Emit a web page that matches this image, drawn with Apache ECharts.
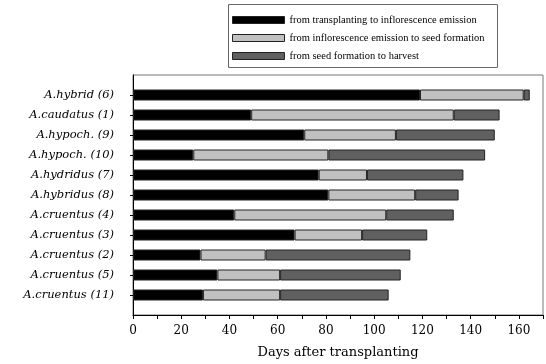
<!DOCTYPE html>
<html>
<head>
<meta charset="utf-8">
<script src="https://cdn.jsdelivr.net/npm/echarts@6/dist/echarts.min.js"></script>
<style>html,body{margin:0;padding:0;background:#fff}#c{width:546px;height:364px}</style>
</head>
<body>
<div id="c"></div>
<script>
var categories = ['A.hybrid (6)','A.caudatus (1)','A.hypoch. (9)','A.hypoch. (10)','A.hydridus (7)','A.hybridus (8)','A.cruentus (4)','A.cruentus (3)','A.cruentus (2)','A.cruentus (5)','A.cruentus (11)'];
var seriesNames = ['from transplanting to inflorescence emission','from inflorescence emission to seed formation','from seed formation to harvest'];
var toInflorescence = [119, 49, 71, 25, 77, 81, 42, 67, 28, 35, 29];
var toSeed = [43, 84, 38, 56, 20, 36, 63, 28, 27, 26, 32];
var toHarvest = [2.5, 19, 41, 65, 40, 18, 28, 27, 60, 50, 45];
var xTicks = [0, 20, 40, 60, 80, 100, 120, 140, 160];

var colors = ['#000000', '#c0c0c0', '#606060'];
function pad(a){ return ['-'].concat(a).concat(['-']); }
var yData = [''].concat(categories).concat(['']);
var vals = [toInflorescence, toSeed, toHarvest];

var chart = echarts.init(document.getElementById('c'), null, {renderer:'canvas'});
chart.setOption({
  animation: false,
  backgroundColor: '#fff',
  graphic: [{type:'rect', shape:{x:228.5, y:4.5, width:269, height:63}, style:{fill:'none', stroke:'#666', lineWidth:1}, z:-1}],
  legend: {
    orient: 'vertical', left: 232, top: 14, padding: 0, icon: 'rect',
    itemWidth: 52, itemHeight: 7, itemGap: 6,
    textStyle: {fontFamily: 'Liberation Serif', fontSize: 10.5, color: '#000', lineHeight: 12},
    data: seriesNames.map(function(n,i){ return {name:n, itemStyle:{color:colors[i], borderColor:'#222', borderWidth:1}}; })
  },
  grid: {left: 133, right: 1, top: 75, bottom: 49, show: true, borderColor: '#777', borderWidth: 1},
  xAxis: {
    type: 'value', min: 0, max: 170, interval: 10,
    axisLine: {show: true, lineStyle: {color: '#000'}},
    axisTick: {show: true, length: 4, lineStyle: {color: '#000'}},
    splitLine: {show: false},
    axisLabel: {margin: 10, fontFamily: 'DejaVu Serif', fontSize: 12, color: '#000',
      formatter: function(v){ return xTicks.indexOf(v) >= 0 ? String(v) : ''; }},
    name: 'Days after transplanting', nameLocation: 'middle', nameGap: 31,
    nameTextStyle: {fontFamily: 'DejaVu Serif', fontSize: 13, color: '#000'}
  },
  yAxis: {
    type: 'category', inverse: true, boundaryGap: false, data: yData,
    axisLine: {show: true, lineStyle: {color: '#000'}},
    axisTick: {show: true, length: 3, lineStyle: {color: '#000'},
      interval: function(i){ return i > 0 && i < yData.length - 1; }},
    axisLabel: {margin: 19, fontFamily: 'DejaVu Serif', fontStyle: 'italic', fontSize: 11.5, color: '#000'}
  },
  series: seriesNames.map(function(n, i){
    return {
      name: n, type: 'bar', stack: 'total', barWidth: 11,
      itemStyle: {color: colors[i], borderColor: '#222', borderWidth: 1},
      data: pad(vals[i])
    };
  })
});
</script>
</body>
</html>
